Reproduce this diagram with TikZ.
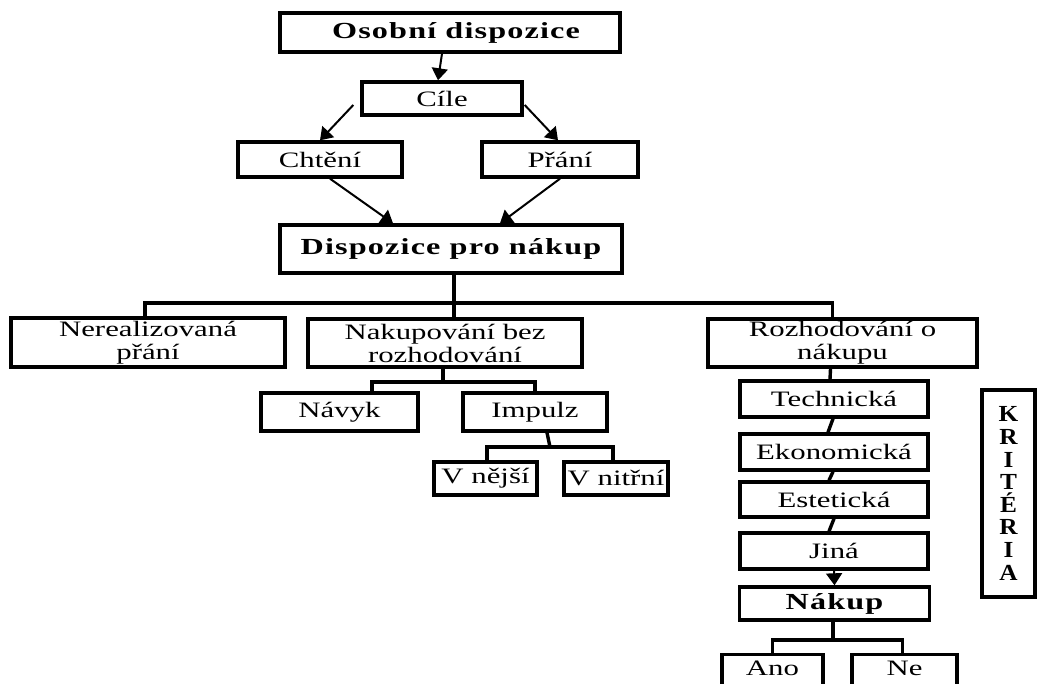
\documentclass[tikz,border=0pt]{standalone}
\usepackage{fontspec}
\setmainfont{Liberation Serif}[FakeStretch=1.4,BoldFeatures={LetterSpace=5}]
\newfontfamily\kritfont{Liberation Serif}[FakeStretch=1.1]
\usetikzlibrary{arrows.meta}
\begin{document}
\begin{tikzpicture}[x=1pt,y=-1pt,
  box/.style={draw,line width=3.4pt,inner sep=0pt,align=center,font=\fontsize{22}{23}\selectfont},
  bbox/.style={box,font=\fontsize{23}{24}\selectfont\bfseries},
  conn/.style={line width=3.4pt},
  arr/.style={line width=2pt,-{Triangle[length=12pt,width=16pt]}}]
\useasboundingbox (0,0) rectangle (1040,684);
\clip (0,0) rectangle (1040,684);
% top part
\node[bbox,minimum width=340,minimum height=39] (osobni) at (450,32.5) {\hspace*{12pt}Osobní dispozice};
\node[box,minimum width=160,minimum height=33] (cile) at (442,98.5) {Cíle};
\node[box,minimum width=164,minimum height=35] (chteni) at (320,159.5) {Chtění};
\node[box,minimum width=156,minimum height=35] (prani) at (560,159.5) {Přání};
\node[bbox,minimum width=342,minimum height=48] (dispozice) at (451,249) {Dispozice pro nákup};
% second level
\node[box,minimum width=274,minimum height=49] (nereal) at (148,342.5) {Nerealizovaná\\přání};
\node[box,minimum width=274,minimum height=48] (nakup1) at (445,343) {Nakupování bez\\rozhodování};
\node[box,minimum width=269,minimum height=48] (rozhod) at (842.5,343) {Rozhodování o\\nákupu};
% left branch
\node[box,minimum width=157,minimum height=38] (navyk) at (339.5,412) {Návyk};
\node[box,minimum width=144,minimum height=38] (impulz) at (535,412) {Impulz};
\node[box,minimum width=103,minimum height=33] (vnejsi) at (485.5,478.5) {V nější};
\node[box,minimum width=104,minimum height=33] (vnitrni) at (616,478.5) {V nitřní};
% right branch
\node[box,minimum width=188,minimum height=36] (tech) at (834,399) {Technická};
\node[box,minimum width=188,minimum height=36] (ekon) at (834,452) {Ekonomická};
\node[box,minimum width=188,minimum height=35] (estet) at (834,499.5) {Estetická};
\node[box,minimum width=188,minimum height=36] (jina) at (834,551) {Jiná};
\node[bbox,minimum width=190,minimum height=33] (nakup) at (834.5,603.5) {Nákup};
\node[box,anchor=north,minimum width=101,text height=21pt,text depth=30pt] (ano) at (772.5,653) {Ano};
\node[box,anchor=north,minimum width=105,text height=21pt,text depth=30pt] (ne) at (904.5,653) {Ne};
\node[box,minimum width=53,minimum height=207,font=\kritfont\fontsize{23}{22.6}\selectfont\bfseries] (krit) at (1008.5,493.5) {K\\R\\I\\T\\É\\R\\I\\A};
% arrows
\draw[arr] ([shift={(-8,0)}]osobni.south) -- ([shift={(-4,0)}]cile.north);
\draw[arr] ([shift={(-7,6.5)}]cile.west) -- (chteni.north);
\draw[arr] ([shift={(1,6.5)}]cile.east) -- ([shift={(-2,0)}]prani.north);
\draw[arr] ([shift={(10,0)}]chteni.south) -- ([shift={(-58,0)}]dispozice.north);
\draw[arr] (prani.south) -- ([shift={(49,0)}]dispozice.north);
% tree connectors
\coordinate (j1) at (454,303);
\draw[conn] ([shift={(3,0)}]dispozice.south) -- (j1);
\draw[conn] (j1) -- ([shift={(9,0)}]nakup1.north);
\draw[conn] ([shift={(-3,0)}]nereal.north) |- (j1) -| ([shift={(-10,0)}]rozhod.north);
\coordinate (j2) at (443,382);
\draw[conn] ([shift={(-2,0)}]nakup1.south) -- (j2);
\draw[conn] ([shift={(32.5,0)}]navyk.north) |- (j2) -| (impulz.north);
\coordinate (j3) at (550,447);
\draw[conn] ([shift={(12,0)}]impulz.south) -- (j3);
\draw[conn] ([shift={(1.5,0)}]vnejsi.north) |- (j3) -| ([shift={(-3,0)}]vnitrni.north);
\draw[conn] ([shift={(-12,0)}]rozhod.south) -- ([shift={(-4,0)}]tech.north);
\draw[conn] ([shift={(-1,0)}]tech.south) -- ([shift={(-6,0)}]ekon.north);
\draw[conn] ([shift={(-1,0)}]ekon.south) -- ([shift={(-5,0)}]estet.north);
\draw[conn] (estet.south) -- ([shift={(-5,0)}]jina.north);
\draw[arr] (jina.south) -- (nakup.north);
\coordinate (j4) at (833,640);
\draw[conn] ([shift={(-1.5,0)}]nakup.south) -- (j4);
\draw[conn] (ano.north) |- (j4) -| ([shift={(-2,0)}]ne.north);
\end{tikzpicture}
\end{document}
